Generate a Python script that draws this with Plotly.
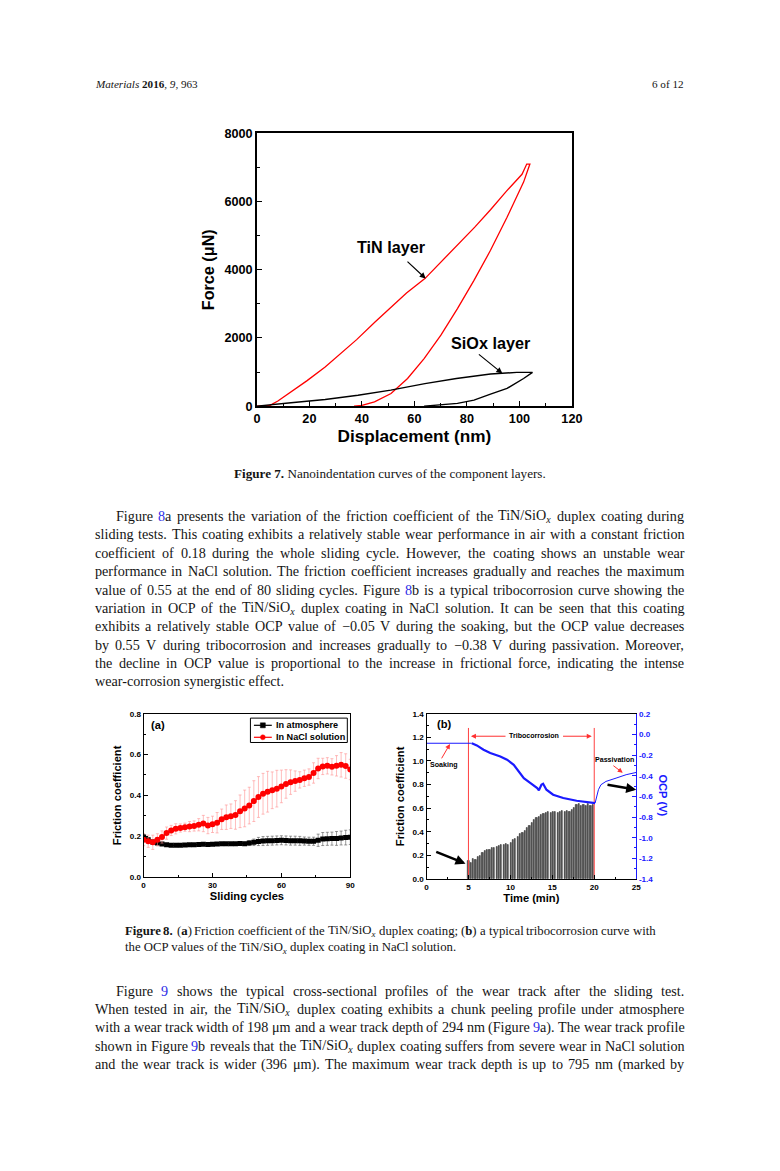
import re
import plotly.graph_objects as go

W, H = 780, 1171
# the captured picture maps page px -> image px with a slight scale/offset; compensate so
# positions below are given in reference-image pixels
SX, OX, SY, OY = 0.987, 0.5, 0.989, 6.5
def X(px): return (px - OX) / SX / W
def Y(py): return 1 - (py - OY) / SY / H
def fs(s): return s / ((SX + SY) / 2)

# ---------------- Figure 7 data ----------------
tin_load_x = [0, 5, 8, 13, 19, 26, 32, 38, 45, 51, 57, 64, 70, 76, 83, 89, 95, 101, 102.8]
tin_load_y = [0, 20, 150, 420, 740, 1150, 1560, 1950, 2470, 2900, 3320, 3740, 4220, 4680, 5250, 5760, 6300, 6800, 7100]
tin_unload_x = [104, 101.6, 95.3, 89, 82.7, 76.4, 70.1, 63.7, 57.4, 51.1, 44.8, 40, 37]
tin_unload_y = [7100, 6570, 5540, 4570, 3690, 2860, 2080, 1395, 810, 370, 127, 20, 0]
siox_load_x = [0, 7, 13, 26, 38.5, 51, 64, 76, 89, 99, 105]
siox_load_y = [0, 60, 100, 195, 320, 470, 660, 810, 940, 990, 990]
siox_unload_x = [105, 101.6, 95.3, 89, 82.7, 76.4, 70.1, 63.7]
siox_unload_y = [990, 810, 520, 350, 175, 80, 30, 0]

# ---------------- Figure 8a data ----------------
cycles = [0, 2, 4, 6, 8, 10, 12, 14, 16, 18, 20, 22, 24, 26, 28, 30, 32, 34, 36, 38, 40, 42, 44,
          46, 48, 50, 52, 54, 56, 58, 60, 62, 64, 66, 68, 70, 72, 74, 76, 78, 80, 82, 84, 86, 88, 90]
cof_air = [0.196, 0.182, 0.172, 0.166, 0.162, 0.158, 0.156, 0.155, 0.156, 0.157, 0.158, 0.158, 0.159,
           0.160, 0.159, 0.160, 0.162, 0.163, 0.163, 0.163, 0.163, 0.164, 0.163, 0.166, 0.170, 0.174,
           0.176, 0.177, 0.178, 0.179, 0.180, 0.179, 0.178, 0.178, 0.177, 0.176, 0.175, 0.175, 0.180,
           0.186, 0.187, 0.188, 0.189, 0.191, 0.193, 0.195]
cof_air_err = [0.012, 0.01, 0.01, 0.008, 0.008, 0.006, 0.006, 0.006, 0.006, 0.006, 0.006, 0.006, 0.006,
               0.006, 0.006, 0.006, 0.006, 0.006, 0.006, 0.006, 0.006, 0.006, 0.008, 0.012, 0.016, 0.02,
               0.022, 0.022, 0.022, 0.022, 0.022, 0.022, 0.022, 0.022, 0.022, 0.02, 0.02, 0.02, 0.03,
               0.032, 0.032, 0.032, 0.034, 0.034, 0.036, 0.036]
cof_nacl = [0.183, 0.175, 0.170, 0.182, 0.196, 0.215, 0.228, 0.236, 0.240, 0.244, 0.247, 0.250, 0.256,
            0.262, 0.252, 0.258, 0.266, 0.283, 0.293, 0.298, 0.304, 0.322, 0.336, 0.350, 0.372, 0.392,
            0.408, 0.418, 0.425, 0.433, 0.444, 0.456, 0.465, 0.470, 0.476, 0.484, 0.490, 0.510, 0.532,
            0.542, 0.545, 0.540, 0.545, 0.550, 0.544, 0.527]
cof_nacl_err = [0.03, 0.03, 0.035, 0.03, 0.03, 0.03, 0.025, 0.025, 0.02, 0.02, 0.025, 0.025, 0.03, 0.04,
                0.04, 0.04, 0.05, 0.05, 0.06, 0.06, 0.07, 0.08, 0.09, 0.09, 0.1, 0.1, 0.1, 0.1, 0.09,
                0.09, 0.08, 0.07, 0.06, 0.05, 0.04, 0.04, 0.04, 0.05, 0.05, 0.04, 0.04, 0.04, 0.05,
                0.06, 0.06, 0.05]
legend_names = ["In atmosphere", "In NaCl solution"]

# ---------------- Figure 8b data ----------------
phase_bounds = [5, 20]
spike_peaks = [0.15, 0.14, 0.17, 0.16, 0.19, 0.20, 0.22, 0.24, 0.25, 0.25, 0.26, 0.26, 0.27, 0.28,
               0.29, 0.29, 0.30, 0.29, 0.31, 0.33, 0.34, 0.36, 0.38, 0.39, 0.41, 0.43, 0.45, 0.48,
               0.50, 0.52, 0.53, 0.54, 0.55, 0.56, 0.57, 0.56, 0.57, 0.57, 0.56, 0.57, 0.58, 0.57,
               0.58, 0.57, 0.59, 0.60, 0.63, 0.64, 0.62, 0.63, 0.62, 0.64, 0.62, 0.63]
spike_t = [5.0 + 0.28 * i for i in range(len(spike_peaks))]
ocp_soak_t = [0, 5.4]
ocp_soak_v = [-0.085, -0.085]
ocp_tribo_t = [5.4, 6.0, 6.8, 7.6, 8.8, 9.6, 10.4, 11.0, 11.6, 12.4, 13.2, 13.4, 13.7, 13.9, 14.3,
               15.1, 16.3, 17.9, 19.5, 20.1]
ocp_tribo_v = [-0.085, -0.106, -0.148, -0.18, -0.213, -0.245, -0.294, -0.358, -0.423, -0.471, -0.519,
               -0.542, -0.487, -0.477, -0.535, -0.584, -0.616, -0.642, -0.658, -0.665]
ocp_pass_t = [20.1, 20.3, 20.5, 20.8, 21.4, 22.6, 23.8, 25.0]
ocp_pass_v = [-0.665, -0.6, -0.535, -0.487, -0.455, -0.423, -0.39, -0.368]

SANS = "Liberation Sans, Arial, sans-serif"
SERIF = "Liberation Serif, Times New Roman, serif"
BLUE = "#1a1aff"

fig = go.Figure()

fig.add_trace(go.Scatter(x=tin_load_x + tin_unload_x, y=tin_load_y + tin_unload_y, mode="lines",
                         line=dict(color="#ff0000", width=1.3), showlegend=False, xaxis="x", yaxis="y"))
fig.add_trace(go.Scatter(x=siox_load_x + siox_unload_x, y=siox_load_y + siox_unload_y, mode="lines",
                         line=dict(color="#000000", width=1.4), showlegend=False, xaxis="x", yaxis="y"))

fig.add_trace(go.Scatter(x=cycles, y=cof_air, mode="lines+markers", name=legend_names[0], showlegend=False,
                         line=dict(color="black", width=1.2),
                         marker=dict(symbol="square", size=5, color="black"),
                         error_y=dict(type="data", array=cof_air_err, color="#555555", thickness=0.6, width=1.5),
                         xaxis="x2", yaxis="y2"))
fig.add_trace(go.Scatter(x=cycles, y=cof_nacl, mode="lines+markers", name=legend_names[1], showlegend=False,
                         line=dict(color="#ff0000", width=1.5),
                         marker=dict(symbol="circle", size=6, color="#ff0000"),
                         error_y=dict(type="data", array=cof_nacl_err, color="#ff9090", thickness=0.6, width=1.5),
                         xaxis="x2", yaxis="y2"))

fig.add_trace(go.Bar(x=spike_t, y=spike_peaks, width=0.14,
                     marker=dict(color="#5e5e5e", line=dict(color="#111111", width=0.5)),
                     showlegend=False, xaxis="x3", yaxis="y3"))
fig.add_trace(go.Scatter(x=[phase_bounds[0], phase_bounds[0], None, phase_bounds[1], phase_bounds[1]],
                         y=[0, 1.28, None, 0, 1.28], mode="lines", line=dict(color="#ff4040", width=1),
                         showlegend=False, xaxis="x3", yaxis="y3"))
fig.add_trace(go.Scatter(x=ocp_soak_t, y=ocp_soak_v, mode="lines", line=dict(color=BLUE, width=1.2),
                         showlegend=False, xaxis="x3", yaxis="y4"))
fig.add_trace(go.Scatter(x=ocp_tribo_t, y=ocp_tribo_v, mode="lines", line=dict(color=BLUE, width=2.2),
                         showlegend=False, xaxis="x3", yaxis="y4"))
fig.add_trace(go.Scatter(x=ocp_pass_t, y=ocp_pass_v, mode="lines", line=dict(color=BLUE, width=1),
                         showlegend=False, xaxis="x3", yaxis="y4"))

def F(size, color="black", family=SANS, bold=True):
    d = dict(family=family, size=fs(size), color=color)
    if bold:
        d["weight"] = "bold"
    return d

def ax(**kw):
    base = dict(showline=True, linecolor="black", linewidth=1.2, mirror=True, ticks="inside",
                ticklen=4, tickwidth=1, tickcolor="black", showgrid=False, zeroline=False,
                tickfont=F(8), title_font=F(11),
                minor=dict(ticks="inside", ticklen=2, tickcolor="black"))
    base.update(kw)
    return base

fig.update_layout(
    width=W, height=H, margin=dict(l=0, r=0, t=0, b=0),
    paper_bgcolor="white", plot_bgcolor="white", showlegend=False,
    bargap=0,
    xaxis=ax(domain=[X(255), X(572)], anchor="y", range=[0, 120], tickvals=[0, 20, 40, 60, 80, 100, 120],
             minor=dict(ticks="inside", ticklen=3, dtick=10, tick0=0, tickcolor="black"), ticklen=5,
             tickfont=F(12.5),
             title=dict(text="Displacement (nm)", standoff=4, font=F(17)),
             linewidth=1.5),
    yaxis=ax(domain=[Y(406), Y(133)], anchor="x", range=[0, 8000], tickvals=[0, 2000, 4000, 6000, 8000],
             minor=dict(ticks="inside", ticklen=3, dtick=1000, tick0=0, tickcolor="black"), ticklen=5,
             tickfont=F(12.5),
             title=dict(text="Force (μN)", standoff=6, font=F(16)),
             linewidth=1.5),
    xaxis2=ax(domain=[X(141), X(349)], anchor="y2", range=[0, 90], tickvals=[0, 30, 60, 90],
              minor=dict(ticks="inside", ticklen=2, dtick=15, tick0=0, tickcolor="black"),
              title=dict(text="Sliding cycles", standoff=3)),
    yaxis2=ax(domain=[Y(877.3), Y(714)], anchor="x2", range=[0, 0.8], tickvals=[0, 0.2, 0.4, 0.6, 0.8],
              ticktext=["0.0", "0.2", "0.4", "0.6", "0.8"],
              minor=dict(ticks="inside", ticklen=2, dtick=0.1, tick0=0, tickcolor="black"),
              title=dict(text="Friction coefficient", standoff=5)),
    xaxis3=ax(domain=[X(425.7), X(636.7)], anchor="y3", range=[0, 25], tickvals=[0, 5, 10, 15, 20, 25],
              minor=dict(ticks="inside", ticklen=2, dtick=2.5, tick0=0, tickcolor="black"),
              title=dict(text="Time (min)", standoff=1)),
    yaxis3=ax(domain=[Y(879.3), Y(714)], anchor="x3", range=[0, 1.4], mirror=False,
              tickvals=[0, 0.2, 0.4, 0.6, 0.8, 1.0, 1.2, 1.4],
              ticktext=["0.0", "0.2", "0.4", "0.6", "0.8", "1.0", "1.2", "1.4"],
              minor=dict(ticks="inside", ticklen=2, dtick=0.1, tick0=0, tickcolor="black"),
              title=dict(text="Friction coefficient", standoff=5)),
    yaxis4=ax(overlaying="y3", anchor="x3", side="right", range=[-1.4, 0.2], mirror=False,
              tickvals=[-1.4, -1.2, -1.0, -0.8, -0.6, -0.4, -0.2, 0.0, 0.2],
              ticktext=["-1.4", "-1.2", "-1.0", "-0.8", "-0.6", "-0.4", "-0.2", "0.0", "0.2"],
              linecolor=BLUE, tickcolor=BLUE, tickfont=F(8, BLUE),
              minor=dict(ticks="inside", ticklen=2, dtick=0.1, tick0=0, tickcolor=BLUE)),
)

ann = []
shapes = []

# ---------- justified page text (Times metrics, 1/1000 em) ----------
TW = {' ': 250, '!': 333, '"': 408, '%': 833, '&': 778, "'": 333, '(': 333, ')': 333, '+': 564, ',': 250,
      '-': 333, '.': 250, '/': 278, ':': 278, ';': 278, '=': 564, '?': 444,
      'A': 722, 'B': 667, 'C': 667, 'D': 722, 'E': 611, 'F': 556, 'G': 722, 'H': 722, 'I': 333, 'J': 389,
      'K': 722, 'L': 611, 'M': 889, 'N': 722, 'O': 722, 'P': 556, 'Q': 722, 'R': 667, 'S': 556, 'T': 611,
      'U': 722, 'V': 722, 'W': 944, 'X': 722, 'Y': 722, 'Z': 611,
      'a': 444, 'b': 500, 'c': 444, 'd': 500, 'e': 444, 'f': 333, 'g': 500, 'h': 500, 'i': 278, 'j': 278,
      'k': 500, 'l': 278, 'm': 778, 'n': 500, 'o': 500, 'p': 500, 'q': 500, 'r': 333, 's': 389, 't': 278,
      'u': 500, 'v': 500, 'w': 722, 'x': 500, 'y': 500, 'z': 444, 'μ': 576, '−': 564}
for d in "0123456789":
    TW[d] = 500

def seg_width(html):
    w = 0.0
    bold = sub = False
    for tag, text in re.findall(r'(<[^>]+>)|([^<]+)', html):
        if tag:
            t = tag.lower()
            if t == '<b>': bold = True
            elif t == '</b>': bold = False
            elif t == '<sub>': sub = True
            elif t == '</sub>': sub = False
        else:
            w += sum(TW.get(c, 500) for c in text) / 1000.0 * (1.06 if bold else 1.0) * (0.7 if sub else 1.0)
    return w

def conv(tok):
    tok = tok.replace("SIOX", "TiN/SiO<sub><i>x</i></sub>")
    tok = re.sub(r'§(\d)§', r"<span style='color:#2b2be6'>\1</span>", tok)
    return tok

def put(text, x, y, size, xanchor="left", family=SERIF, color="#141414"):
    ann.append(dict(text=text, x=X(x), y=Y(y), xref="paper", yref="paper", xanchor=xanchor,
                    yanchor="middle", showarrow=False, borderpad=0, borderwidth=0,
                    font=dict(family=family, size=fs(size), color=color)))

def line(s, x0, x1, y, size, justify=True):
    toks = s.split()
    if not justify:
        put(" ".join(conv(t) for t in toks), x0, y, size)
        return
    htmls = [conv(t) for t in toks]
    widths = [seg_width(h) * size * 1.01 for h in htmls]
    gap = (x1 - x0 - sum(widths)) / (len(toks) - 1)
    gap = max(gap, 0.2 * size)
    x = x0
    for h, w in zip(htmls, widths):
        put(h, x, y, size)
        x += w + gap

LEFT, RIGHT = 92, 685
BODY = 14.0
CAP = 12.6
put("<i>Materials</i> <b>2016</b>, <i>9</i>, 963", LEFT, 84, 11)
put("6 of 12", RIGHT, 84, 11, xanchor="right")
put("<b>Figure 7.</b> Nanoindentation curves of the component layers.", 389, 473.5, 13, xanchor="center")

para1 = [
    "Figure §8§a presents the variation of the friction coefficient of the SIOX duplex coating during",
    "sliding tests. This coating exhibits a relatively stable wear performance in air with a constant friction",
    "coefficient of 0.18 during the whole sliding cycle. However, the coating shows an unstable wear",
    "performance in NaCl solution. The friction coefficient increases gradually and reaches the maximum",
    "value of 0.55 at the end of 80 sliding cycles. Figure §8§b is a typical tribocorrosion curve showing the",
    "variation in OCP of the SIOX duplex coating in NaCl solution. It can be seen that this coating",
    "exhibits a relatively stable OCP value of −0.05 V during the soaking, but the OCP value decreases",
    "by 0.55 V during tribocorrosion and increases gradually to −0.38 V during passivation. Moreover,",
    "the decline in OCP value is proportional to the increase in frictional force, indicating the intense",
    "wear-corrosion synergistic effect.",
]
for i, s in enumerate(para1):
    x0 = LEFT + 21 if i == 0 else LEFT
    line(s, x0, RIGHT, 516 + 18.4 * i, BODY, justify=(i < len(para1) - 1))

line("<b>Figure</b> <b>8.</b> (<b>a</b>) Friction coefficient of the SIOX duplex coating; (<b>b</b>) a typical tribocorrosion curve with",
     122, 656, 931, CAP)
line("the OCP values of the SIOX duplex coating in NaCl solution.", 122, 656, 948.5, CAP, justify=False)

para2 = [
    "Figure §9§ shows the typical cross-sectional profiles of the wear track after the sliding test.",
    "When tested in air, the SIOX duplex coating exhibits a chunk peeling profile under atmosphere",
    "with a wear track width of 198 μm and a wear track depth of 294 nm (Figure §9§a). The wear track profile",
    "shown in Figure §9§b reveals that the SIOX duplex coating suffers from severe wear in NaCl solution",
    "and the wear track is wider (396 μm). The maximum wear track depth is up to 795 nm (marked by",
]
for i, s in enumerate(para2):
    x0 = LEFT + 21 if i == 0 else LEFT
    line(s, x0, RIGHT, 991 + 18.4 * i, BODY)

# ---------- in-plot labels and arrows ----------
def dtxt(text, x, y, xr, yr, size, color="black", xanchor="center"):
    ann.append(dict(text=text, x=x, y=y, xref=xr, yref=yr, showarrow=False, xanchor=xanchor,
                    font=F(size, color)))
def arrow(x0, y0, x1, y1, xr, yr, color="black", width=1.2, head=2, size=1.0):
    ann.append(dict(x=x1, y=y1, ax=x0, ay=y0, xref=xr, yref=yr, axref=xr, ayref=yr, text="",
                    showarrow=True, arrowhead=head, arrowsize=size, arrowwidth=width, arrowcolor=color))

dtxt("TiN layer", 51.1, 4660, "x", "y", 16)
arrow(56.8, 4280, 64.3, 3740, "x", "y")
dtxt("SiOx layer", 89, 1846, "x", "y", 16)
arrow(84.0, 1553, 93.5, 960, "x", "y")

dtxt("(a)", 2.5, 0.745, "x2", "y2", 11, xanchor="left")
shapes.append(dict(type="rect", xref="paper", yref="paper", x0=X(248.5), x1=X(346), y0=Y(742.7), y1=Y(718.3),
                   line=dict(color="black", width=1), fillcolor="white", layer="above"))
for k, (yy, col, sym) in enumerate([(725.5, "black", "square"), (737.5, "#ff0000", "circle")]):
    shapes.append(dict(type="line", xref="paper", yref="paper", x0=X(252), x1=X(270), y0=Y(yy), y1=Y(yy),
                       line=dict(color=col, width=1.2), layer="above"))
    shapes.append(dict(type="rect" if sym == "square" else "circle", xref="paper", yref="paper",
                       x0=X(258.5), x1=X(263.5), y0=Y(yy + 2.5), y1=Y(yy - 2.5),
                       line=dict(color=col, width=0.5), fillcolor=col, layer="above"))
    ann.append(dict(text=legend_names[k], x=X(272), y=Y(yy), xref="paper", yref="paper", xanchor="left",
                    yanchor="middle", showarrow=False, font=F(9)))

dtxt("(b)", 1.0, 1.31, "x3", "y3", 11, xanchor="left")
dtxt("Tribocorrosion", 12.8, 1.21, "x3", "y3", 7)
arrow(9.6, 1.21, 5.3, 1.21, "x3", "y3", color="#ff3030", width=1, head=2, size=1)
arrow(16.1, 1.21, 19.7, 1.21, "x3", "y3", color="#ff3030", width=1, head=2, size=1)
dtxt("Soaking", 2.1, 0.965, "x3", "y3", 7)
arrow(1.7, 1.01, 2.8, 1.145, "x3", "y3", color="#ff3030", width=1, head=2, size=1)
dtxt("Passivation", 22.4, 1.005, "x3", "y3", 7)
arrow(22.1, 0.97, 23.4, 0.9, "x3", "y3", color="#ff3030", width=1, head=2, size=1)
arrow(0.98, 0.234, 4.65, 0.13, "x3", "y3", color="black", width=2.5, head=2, size=0.8)
arrow(21.4, 0.8, 25.0, 0.757, "x3", "y3", color="black", width=2.5, head=2, size=0.8)
ann.append(dict(text="OCP (V)", x=X(664), y=Y(796), xref="paper", yref="paper", showarrow=False,
                xanchor="center", yanchor="middle", textangle=90, font=F(11, BLUE)))

fig.update_layout(annotations=ann, shapes=shapes)
fig.write_html("out.html", config={"displayModeBar": False},
               post_script="document.body.style.margin='0';document.body.style.overflow='hidden';")
